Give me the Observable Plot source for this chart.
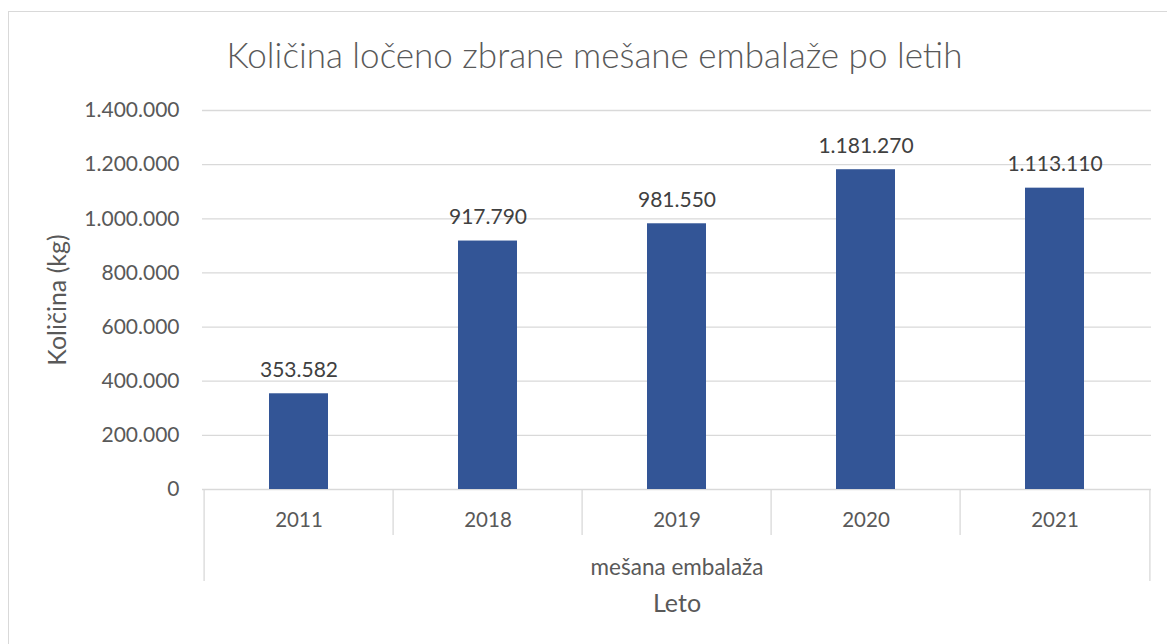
<!DOCTYPE html>
<html>
<head>
<meta charset="utf-8">
<script src="https://cdn.jsdelivr.net/npm/d3@7"></script>
<script src="https://cdn.jsdelivr.net/npm/@observablehq/plot@0.6"></script>
<style>
  html, body { margin: 0; padding: 0; background: #fff; overflow: hidden; }
  body { width: 1167px; height: 644px; position: relative; font-family: Lato, "Noto Sans", sans-serif; }
  #frame { position: absolute; left: 8px; top: 11px; width: 1220px; height: 720px; border: 1px solid #d9d9d9; box-sizing: border-box; }
  #title { position: absolute; left: 8px; top: 37px; width: 1173px; text-align: center; font-size: 35px; font-weight: 300; line-height: 1; color: #595959; white-space: nowrap; }
  #chart { position: absolute; left: 0; top: 90px; }
</style>
</head>
<body>
<div id="frame"></div>
<div id="title">Količina ločeno zbrane mešane embalaže po letih</div>
<div id="chart"></div>
<script>
const years = ["2011", "2018", "2019", "2020", "2021"];
const values = [353582, 917790, 981550, 1181270, 1113110];
const yTicks = [0, 200000, 400000, 600000, 800000, 1000000, 1200000, 1400000];
const groupLabel = "mešana embalaža";
const xTitle = "Leto";
const yTitle = "Količina (kg)";

const data = years.map((y, i) => ({year: y, value: values[i]}));
const fmt = d3.formatLocale({decimal: ",", thousands: ".", grouping: [3], currency: ["", " €"]}).format(",");

const W = 1167, H = 554, mL = 202, mR = 16, mT = 20, mB = 155;
const step = (W - mL - mR) / years.length;
const grid = "#d9d9d9";
const font = "Lato, 'Noto Sans', sans-serif";
const plotH = H - mT - mB;

const chart = Plot.plot({
  width: W,
  height: H,
  marginLeft: mL,
  marginRight: mR,
  marginTop: mT,
  marginBottom: mB,
  style: {fontFamily: font, background: "transparent", overflow: "visible"},
  x: {domain: years, paddingInner: 0.69, paddingOuter: 0.345},
  y: {domain: [0, 1400000]},
  marks: [
    Plot.ruleY(yTicks, {stroke: grid, strokeWidth: 1.3}),
    // category separators below the axis
    Plot.ruleX(years.slice(1), {x: d => d, dx: -step / 2, stroke: grid, strokeWidth: 1.3,
      insetTop: plotH, insetBottom: -46}),
    Plot.ruleX([years[0]], {x: d => d, dx: -step / 2, stroke: grid, strokeWidth: 1.3,
      insetTop: plotH, insetBottom: -92}),
    Plot.ruleX([years[years.length - 1]], {x: d => d, dx: step / 2, stroke: grid, strokeWidth: 1.3,
      insetTop: plotH, insetBottom: -92}),
    Plot.barY(data, {x: "year", y: "value", fill: "#335596"}),
    Plot.text(data, {x: "year", y: "value", text: d => fmt(d.value), lineAnchor: "bottom", dy: -17,
      fill: "#404040", fontSize: 21}),
    Plot.axisY({ticks: yTicks, tickFormat: fmt, tickSize: 0, tickPadding: 23, fontSize: 21, color: "#595959", label: null}),
    Plot.axisX({tickSize: 0, tickPadding: 23, fontSize: 20.5, color: "#595959", label: null}),
    Plot.text([groupLabel], {frameAnchor: "bottom", text: d => d, dy: 78, lineAnchor: "middle",
      fill: "#595959", fontSize: 22.5}),
    Plot.text([xTitle], {frameAnchor: "bottom", text: d => d, dy: 114, lineAnchor: "middle",
      fill: "#595959", fontSize: 25}),
    Plot.text([yTitle], {frameAnchor: "left", text: d => d, rotate: -90, dx: -145, textAnchor: "middle", lineAnchor: "middle",
      fill: "#595959", fontSize: 25})
  ]
});
document.getElementById("chart").appendChild(chart);
</script>
</body>
</html>
